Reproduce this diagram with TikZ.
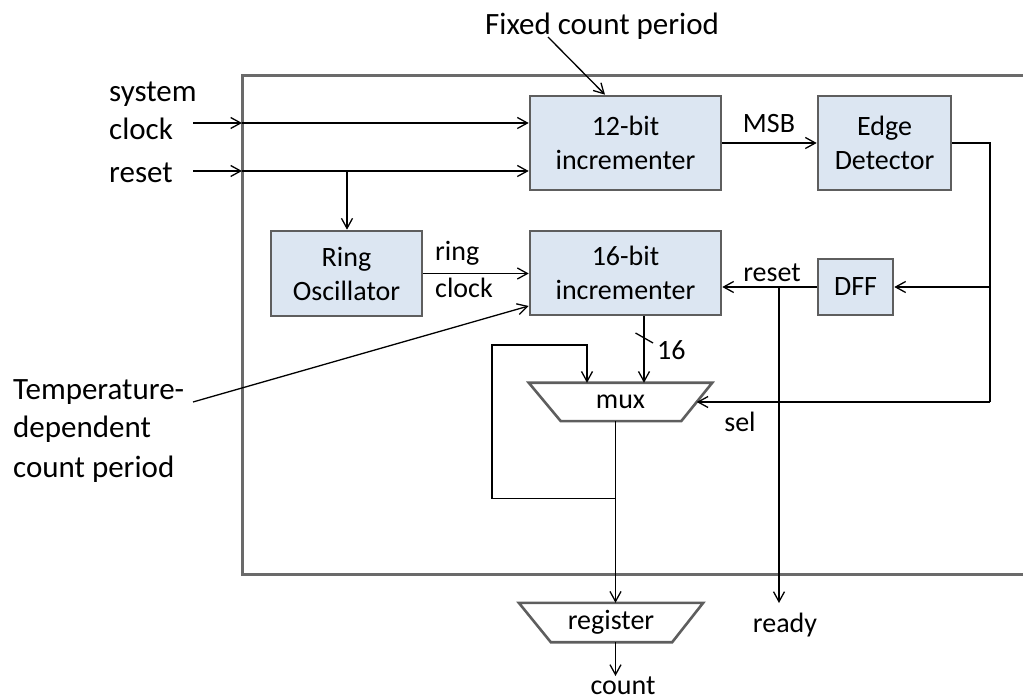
\documentclass[tikz,border=0pt]{standalone}
\usepackage{fontspec}
\setmainfont{Carlito}
\usetikzlibrary{arrows.meta,calc}
\definecolor{boxfill}{HTML}{DCE6F2}
\definecolor{boxedge}{HTML}{5E5E5E}
\definecolor{framegray}{HTML}{6A6A6A}
\newcommand\infnt{\fontsize{28}{34}\selectfont}
\newcommand\outfnt{\fontsize{31}{38}\selectfont}
\begin{document}
\begin{tikzpicture}[x=1pt,y=-1pt,
  blk/.style={draw=boxedge, line width=2.6pt, fill=boxfill, align=center,
              font=\infnt, inner sep=0pt},
  lbl/.style={font=\infnt, inner sep=0pt},
  big/.style={font=\outfnt, inner sep=0pt},
  wire/.style={line width=1.3pt, draw=black},
  arr/.style={wire, -{Straight Barb[length=10pt,width=11pt]}},
  trap/.style={draw=boxedge, line width=2.6pt, line join=miter}]
\useasboundingbox (0,0) rectangle (1023,700);

% enclosing frame (open past the right edge)
\draw[draw=framegray, line width=3pt] (242,76) rectangle (1060,574);

% functional blocks
\node[blk, minimum width=191, minimum height=94] (inc12) at (625.5,143) {12-bit\\incrementer};
\node[blk, minimum width=133, minimum height=94] (edge)  at (884.5,143) {Edge\\Detector};
\node[blk, minimum width=151, minimum height=85] (ring)  at (346.5,273.5) {Ring\\Oscillator};
\node[blk, minimum width=191, minimum height=84] (inc16) at (625.5,273) {16-bit\\incrementer};
\node[blk, minimum width=75,  minimum height=56] (dff)   at (855.5,287) {DFF};

% multiplexer and output register (trapezoids)
\node[lbl, minimum width=183, minimum height=38] (mux) at (620.5,402) {mux};
\draw[trap] (mux.north west) -- (mux.north east) -- ($(mux.south east)+(-31,0)$)
            -- ($(mux.south west)+(32,0)$) -- cycle;
\node[lbl, minimum width=184, minimum height=39] (reg) at (611,622.5) {register};
\draw[trap] (reg.north west) -- (reg.north east) -- ($(reg.south east)+(-31,0)$)
            -- ($(reg.south west)+(32,0)$) -- cycle;

% external labels
\node[big, anchor=base west] (fixed) at (485,35) {Fixed count period};
\node[big, anchor=base west] (sysA) at (109,102) {system};
\node[big, anchor=base west] (sysB) at (109,140) {clock};
\node[big, anchor=base west] (rstL) at (109,183) {reset};
\node[big, anchor=base west] (tA) at (13,400) {Temperature-};
\node[big, anchor=base west] (tB) at (13,438) {dependent};
\node[big, anchor=base west] (tC) at (13,477) {count period};

% signal labels
\node[lbl] (msb) at (769,124) {MSB};
\node[lbl, anchor=west] (ringA) at (435,253) {ring};
\node[lbl, anchor=west] (ringB) at (435,288) {clock};
\node[lbl] (rstS) at (772,273) {reset};
\node[lbl, anchor=west] (w16) at (657,350) {16};
\node[lbl] (sel) at (740,422) {sel};
\node[lbl] (ready) at (785,625) {ready};
\node[lbl, anchor=base] (cnt) at (623,694) {count};

% connection points
\coordinate (fixT)  at (548,37);
\coordinate (clkIn) at (193,123);
\coordinate (clkFr) at (242,123);
\coordinate (rstIn) at (193,171);
\coordinate (rstFr) at (242,171);
\coordinate (rstBr) at (347,171);
\coordinate (tmpT)  at (193,402);
\coordinate (muxout) at ($(mux.south)+(-5,0)$);
\coordinate (loopA) at ($(muxout)+(0,77)$);
\coordinate (loopB) at (492,345);
\coordinate (loopC) at ($(mux.north)+(-33.5,0)$);
\coordinate (busA)  at ($(inc16.south)+(18.5,0)$);
\coordinate (busB)  at ($(mux.north)+(23.5,0)$);
\coordinate (selIn) at ($(mux.east)+(-15.5,0)$);
\coordinate (fbTop) at (990,143);
\coordinate (fbDff) at (990,287);
\coordinate (fbSel) at (990,402);
\coordinate (rdyBr) at (779,287);
\coordinate (rdyEnd) at (779,603);
\coordinate (cntEnd) at (615.5,676);

% inputs
\draw[arr] (fixT) -- ($(inc12.north)+(-20.5,0)$);
\draw[arr] (clkIn) -- (clkFr);
\draw[arr] (clkFr) -- (clkFr -| inc12.west);
\draw[arr] (rstIn) -- (rstFr);
\draw[arr] (rstFr) -- (rstFr -| inc12.west);
\draw[arr] (rstBr) -- (rstBr |- ring.north);
\draw[arr] (tmpT) -- ($(inc16.west)+(0,33)$);

% internal datapath
\draw[arr] (ring.east) -- (ring.east -| inc16.west);
\draw[arr] (inc12.east) -- (edge.west);
\draw[wire] (edge.east) -- (fbTop) -- (fbSel);
\draw[arr] (fbSel) -- (selIn);
\draw[arr] (fbDff) -- (dff.east);
\draw[arr] (dff.west) -- (dff.west -| inc16.east);
\draw[arr] (rdyBr) -- (rdyEnd);
\draw[arr] (busA) -- (busB);
\draw[wire] (635.5,333) -- (653,343);
\draw[arr] (loopA) -| (loopB) -| (loopC);
\draw[arr] (muxout) -- (muxout |- reg.north);
\draw[arr] (muxout |- reg.south) -- (cntEnd);
\end{tikzpicture}
\end{document}
